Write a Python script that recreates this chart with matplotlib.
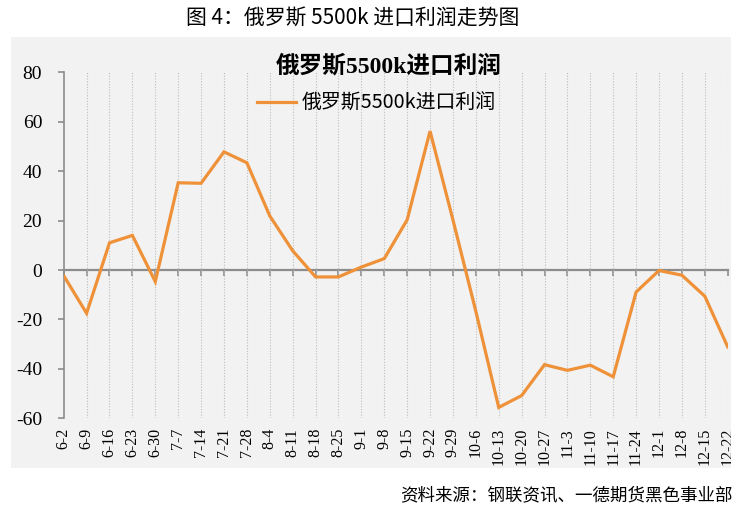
import matplotlib
matplotlib.use('Agg')
import matplotlib.pyplot as plt
from matplotlib.patches import Rectangle

# weekly dates (month-day)
dates = ['6-2', '6-9', '6-16', '6-23', '6-30', '7-7', '7-14', '7-21', '7-28',
         '8-4', '8-11', '8-18', '8-25', '9-1', '9-8', '9-15', '9-22', '9-29',
         '10-6', '10-13', '10-20', '10-27', '11-3', '11-10', '11-17', '11-24',
         '12-1', '12-8', '12-15', '12-22']

# 俄罗斯5500k进口利润
profit = [-2.3, -17.5, 11.0, 14.0, -4.7, 35.3, 35.1, 47.8, 43.4,
          21.9, 7.8, -2.8, -2.8, 1.2, 4.6, 20.3, 56.2, 20.3,
          -16.7, -55.6, -50.8, -38.3, -40.6, -38.5, -43.2, -8.9,
          -0.2, -2.1, -10.6, -31.1]

y_ticks = [-60, -40, -20, 0, 20, 40, 60, 80]

series_name = '俄罗斯5500k进口利润'
fig_title = '图 4：俄罗斯 5500k 进口利润走势图'
source_note = '资料来源：钢联资讯、一德期货黑色事业部'

orange = '#EE9138'
axis_gray = '#8C8C8C'
cjk = ['Noto Sans CJK SC', 'DejaVu Sans']
serif = ['Liberation Serif', 'Noto Sans CJK SC']

W, H = 747, 513
fig = plt.figure(figsize=(W / 100, H / 100), dpi=100)
fig.patch.set_facecolor('white')

# grey chart panel behind the plot
panel = Rectangle((11 / W, 1 - 468 / H), 720 / W, 431 / H,
                  transform=fig.transFigure, facecolor='#F2F2F2',
                  edgecolor='none', zorder=-5)
fig.patches.append(panel)

ax = fig.add_axes([63.7 / W, 1 - 418.3 / H, 664 / W, (418.3 - 72.3) / H])
ax.set_facecolor('none')

x = list(range(len(dates)))
ax.plot(x, profit, color=orange, linewidth=2.3, label=series_name, zorder=4,
        solid_joinstyle='miter')

ax.set_xlim(0, len(dates) - 1)
ax.set_ylim(-60, 80)

# dotted vertical gridlines at every week
for xi in x[1:]:
    ax.axvline(xi, color='#BDBDBD', linestyle=(0, (1, 1.5)), linewidth=0.8,
               zorder=1)

# y axis
for side in ['top', 'right', 'bottom']:
    ax.spines[side].set_visible(False)
ax.spines['left'].set_color(axis_gray)
ax.spines['left'].set_linewidth(1.2)
ax.set_yticks(y_ticks)
ax.set_yticklabels([str(v) for v in y_ticks], fontfamily=serif, fontsize=14)
ax.tick_params(axis='y', direction='out', length=4.5, width=1.2,
               color=axis_gray, pad=11)

# x labels sit at the bottom, rotated
ax.set_xticks(x)
ax.set_xticklabels(dates, rotation=90, fontfamily=serif, fontsize=11.5,
                   va='top', ha='center')
ax.tick_params(axis='x', length=0, pad=7)

# zero line carries the category tick marks
zero_axis = ax.secondary_xaxis(60 / 140)
zero_axis.set_xticks(x)
zero_axis.set_xticklabels([])
zero_axis.tick_params(direction='out', length=4, width=1.2, color=axis_gray)
zero_axis.spines['bottom'].set_color(axis_gray)
zero_axis.spines['bottom'].set_linewidth(1.6)

# chart title inside panel
fig.text(389 / W, 1 - 66 / H, series_name, fontfamily=serif,
         fontweight='bold', fontsize=17, ha='center', va='center')

# legend
leg = ax.legend(loc='center', bbox_to_anchor=(376 / W, 1 - 103 / H),
                bbox_transform=fig.transFigure, frameon=False,
                prop={'family': cjk, 'size': 14.3}, handlelength=2.0,
                handletextpad=0.25, borderpad=0)

# figure caption on top
fig.text(353 / W, 1 - 18 / H, fig_title, fontfamily=cjk, fontsize=15,
         ha='center', va='center')

# source note at bottom right
fig.text(733 / W, 1 - 495 / H, source_note, fontfamily=cjk, fontsize=12.6,
         ha='right', va='center')

# clip the x labels to the grey panel (last one is cut off)
fig.canvas.draw()
for lbl in ax.get_xticklabels():
    lbl.set_clip_path(panel)
    lbl.set_clip_on(True)

fig.savefig('out.png', dpi=100)
